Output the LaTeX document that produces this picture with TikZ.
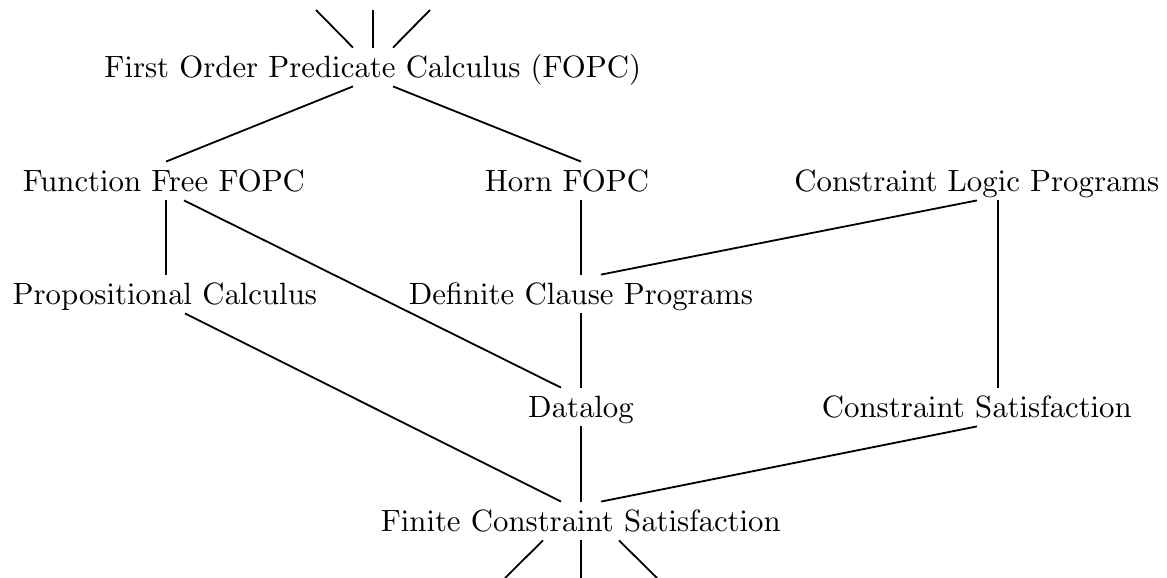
\documentclass[tikz,border=0pt]{standalone}
\font\lblfont=cmr10 at 15.4pt
\begin{document}
\begin{tikzpicture}[x=0.5pt, y=-0.5pt,
  lbl/.style={inner sep=0pt, text height=10.5pt, text depth=0pt,
              minimum height=19pt, font=\lblfont},
  link/.style={line width=0.9pt}]
\useasboundingbox (0,0) rectangle (1167,578);

% concept nodes
\node[lbl] (fopc)    at (373,67)  {First Order Predicate Calculus (FOPC)};
\node[lbl] (ff)      at (164,181) {Function Free FOPC};
\node[lbl] (horn)    at (567,181) {Horn FOPC};
\node[lbl] (clp)     at (977,181) {Constraint Logic Programs};
\node[lbl] (prop)    at (165,294) {Propositional Calculus};
\node[lbl] (dcp)     at (581,294) {Definite Clause Programs};
\node[lbl] (datalog) at (581,407) {Datalog};
\node[lbl] (cs)      at (977,407) {Constraint Satisfaction};
\node[lbl] (fcs)     at (581,521) {Finite Constraint Satisfaction};

% open ends above and below
\coordinate (t1) at (316,10);
\coordinate (t2) at (373,10);
\coordinate (t3) at (430,10);
\coordinate (b1) at (505,578);
\coordinate (b2) at (581,578);
\coordinate (b3) at (657,578);

\draw[link] ([xshift=-10pt]fopc.north) -- (t1);
\draw[link] (fopc.north) -- (t2);
\draw[link] ([xshift=10pt]fopc.north) -- (t3);

\draw[link] ([xshift=-10pt]fopc.south) -- ([xshift=1pt]ff.north);
\draw[link] ([xshift=10pt]fopc.south) -- ([xshift=7pt]horn.north);

\draw[link] ([xshift=1pt]ff.south) -- ([xshift=0.5pt]prop.north);
\draw[link] ([xshift=10pt]ff.south) -- ([xshift=-10pt]datalog.north);
\draw[link] ([xshift=7pt]horn.south) -- (dcp.north);
\draw[link] (clp.south) -- ([xshift=10pt]dcp.north);
\draw[link] ([xshift=10.5pt]clp.south) -- ([xshift=10.5pt]cs.north);

\draw[link] ([xshift=10pt]prop.south) -- ([xshift=-10pt]fcs.north);
\draw[link] (dcp.south) -- (datalog.north);
\draw[link] (datalog.south) -- (fcs.north);
\draw[link] (cs.south) -- ([xshift=10pt]fcs.north);

\draw[link] ([xshift=-19pt]fcs.south) -- (b1);
\draw[link] (fcs.south) -- (b2);
\draw[link] ([xshift=19pt]fcs.south) -- (b3);
\end{tikzpicture}
\end{document}
